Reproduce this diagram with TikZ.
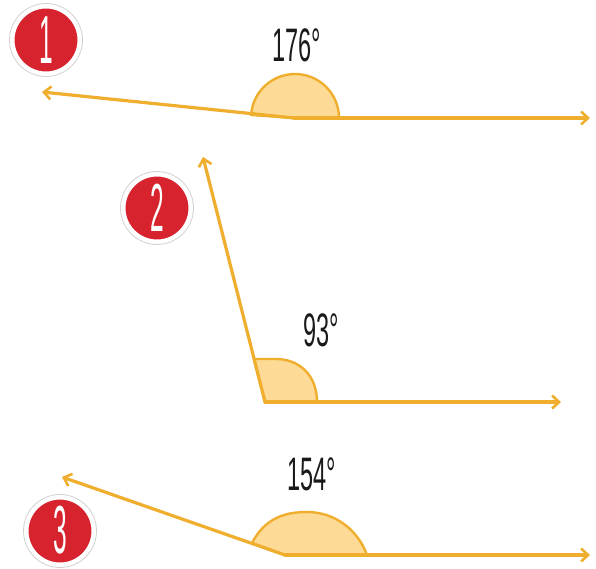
\documentclass[tikz,border=0pt]{standalone}
\usepackage{fontspec}
\setmainfont{Liberation Sans}
\usetikzlibrary{arrows.meta}
\definecolor{ray}{HTML}{F0AE2E}
\definecolor{wedge}{HTML}{FDDB96}
\definecolor{badge}{HTML}{D7232E}
\definecolor{ink}{HTML}{1A1A1A}
\tikzset{
  rayline/.style={draw=ray, line width=3.2pt, line cap=round, line join=round,
    -{Straight Barb[length=7pt,width=13pt,line width=2.6pt]}},
  wedgefill/.style={fill=wedge, draw=ray, line width=2.4pt, line join=round},
  badgenode/.style={circle, minimum size=66pt, inner sep=0pt, fill=badge,
    draw=white, line width=3pt},
  badgeedge/.style={circle, minimum size=73pt, inner sep=0pt, draw=black!18, line width=0.8pt},
  badgedigit/.style={text=white, inner sep=0pt, font=\fontsize{68}{68}\selectfont},
  anglelabel/.style={text=ink, inner sep=0pt, font=\fontsize{47}{47}\selectfont}
}
\begin{document}
\begin{tikzpicture}[x=1pt,y=-1pt]
\useasboundingbox (0,0) rectangle (596,568);
\fill[white] (0,0) rectangle (596,568);
% ---------- angle 1 ----------
\coordinate (V1) at (294,118);
\coordinate (A1) at (42,92);
\coordinate (B1) at (590,118);
\path[wedgefill] (V1) -- (339,118) arc[start angle=0, end angle=-176, radius=44] -- cycle;
\draw[rayline] (V1) -- (A1);
\draw[rayline] (V1) -- (B1);
\node[anglelabel] (L1) at (297,45) {\scalebox{0.5}[1]{176\textdegree}};
\node[badgeedge] (C1e) at (46,40) {};
\node[badgenode] (C1) at (46,40) {};
\node[badgedigit] (N1) at (C1) {\scalebox{0.36}[1]{1}};
% ---------- angle 2 ----------
\coordinate (V2) at (265,402);
\coordinate (A2) at (203,157);
\coordinate (B2) at (561,402);
\path[wedgefill] (V2) -- (317,402) .. controls (317,374) and (298,359) .. (276,359) -- (254,359) -- cycle;
\draw[rayline] (V2) -- (A2);
\draw[rayline] (V2) -- (B2);
\node[anglelabel] (L2) at (321,330) {\scalebox{0.5}[1]{93\textdegree}};
\node[badgeedge] (C2e) at (157,208) {};
\node[badgenode] (C2) at (157,208) {};
\node[badgedigit] (N2) at (C2) {\scalebox{0.36}[1]{2}};
% ---------- angle 3 ----------
\coordinate (V3) at (285,555);
\coordinate (A3) at (62,477);
\coordinate (B3) at (590,555);
\path[wedgefill] (V3) -- (252,543) .. controls (265,518) and (285,512) .. (307,512)
  .. controls (335,512) and (358,530) .. (367,555) -- cycle;
\draw[rayline] (V3) -- (A3);
\draw[rayline] (V3) -- (B3);
\node[anglelabel] (L3) at (312,474) {\scalebox{0.5}[1]{154\textdegree}};
\node[badgeedge] (C3e) at (60,531) {};
\node[badgenode] (C3) at (60,531) {};
\node[badgedigit] (N3) at (60,530) {\scalebox{0.36}[1]{3}};
\end{tikzpicture}
\end{document}
